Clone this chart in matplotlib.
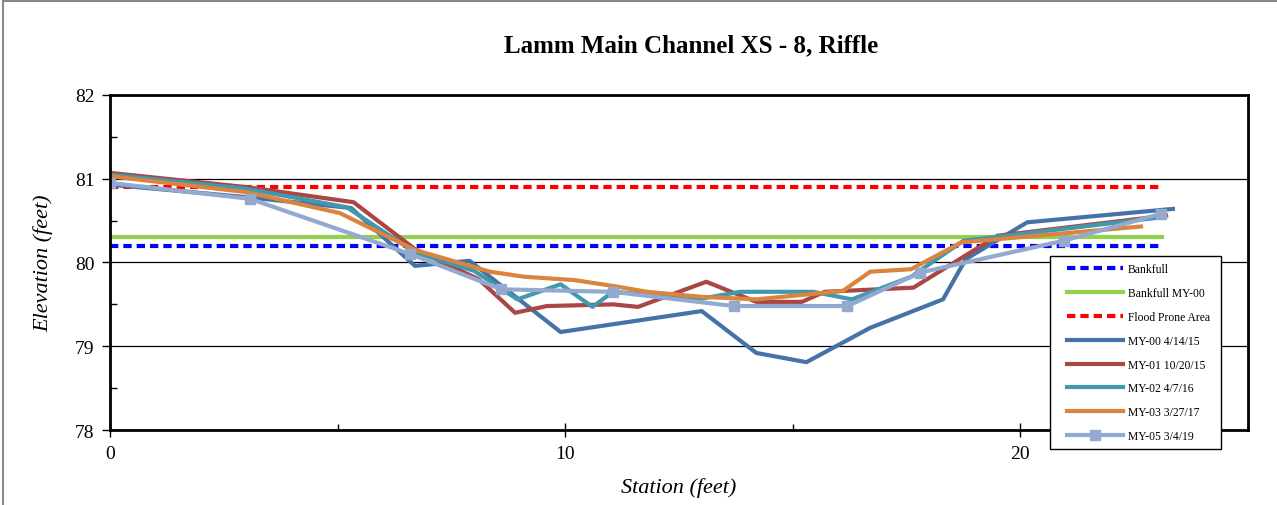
import matplotlib
matplotlib.use('Agg')
import matplotlib.pyplot as plt
from matplotlib.patches import Rectangle
from matplotlib.ticker import MultipleLocator

plt.rcParams['font.family'] = ['Liberation Serif', 'DejaVu Serif']

# reference lines (station range and elevations)
ref_x = [0, 23.1]
bankfull = 80.2
bankfull_my00 = 80.3
flood_prone = 80.9

# surveyed cross sections
my00_x = [0, 3.0, 5.3, 6.7, 7.9, 9.9, 13.0, 14.2, 15.3, 16.7, 18.3, 18.8, 20.15, 23.35]
my00_y = [80.93, 80.78, 80.65, 79.96, 80.02, 79.17, 79.42, 78.92, 78.81, 79.22, 79.56, 80.04, 80.48, 80.64]

my01_x = [0, 3.0, 5.35, 6.7, 8.1, 8.9, 9.6, 11.05, 11.6, 13.1, 14.2, 15.2, 15.7, 17.65, 19.5, 23.2]
my01_y = [81.07, 80.9, 80.72, 80.16, 79.8, 79.40, 79.48, 79.50, 79.47, 79.77, 79.53, 79.53, 79.65, 79.70, 80.32, 80.56]

my02_x = [0, 3.0, 5.2, 6.7, 8.0, 8.95, 9.9, 10.6, 11.05, 13.0, 13.85, 15.45, 16.3, 17.6, 18.75, 23.1]
my02_y = [81.05, 80.88, 80.66, 80.12, 79.9, 79.56, 79.74, 79.47, 79.65, 79.57, 79.65, 79.65, 79.56, 79.83, 80.26, 80.54]

my03_x = [0, 3.0, 5.05, 6.7, 8.35, 9.1, 10.2, 11.05, 11.8, 13.0, 14.2, 16.1, 16.7, 17.6, 18.7, 22.65]
my03_y = [81.03, 80.84, 80.59, 80.15, 79.89, 79.83, 79.79, 79.72, 79.65, 79.59, 79.56, 79.66, 79.89, 79.92, 80.24, 80.43]

my05_x = [0, 3.08, 6.6, 8.6, 11.05, 13.7, 16.2, 17.8, 20.95, 23.08]
my05_y = [80.95, 80.76, 80.10, 79.68, 79.65, 79.48, 79.48, 79.88, 80.26, 80.58]

fig = plt.figure(figsize=(12.77, 5.06), dpi=100)
ax = fig.add_axes([0.0861, 0.1482, 0.8912, 0.6621])

lw = 3
ax.plot(ref_x, [bankfull] * 2, color='#0000FF', lw=lw, dashes=(2, 1.2), label='Bankfull')
ax.plot(ref_x, [bankfull_my00] * 2, color='#92D050', lw=lw, label='Bankfull MY-00')
ax.plot(ref_x, [flood_prone] * 2, color='#FF0000', lw=lw, dashes=(2, 1.2), label='Flood Prone Area')
ax.plot(my00_x, my00_y, color='#4572A7', lw=lw, label='MY-00 4/14/15')
ax.plot(my01_x, my01_y, color='#AA4643', lw=lw, label='MY-01 10/20/15')
ax.plot(my02_x, my02_y, color='#4198AF', lw=lw, label='MY-02 4/7/16')
ax.plot(my03_x, my03_y, color='#DB843D', lw=lw, label='MY-03 3/27/17')
ax.plot(my05_x, my05_y, color='#93A9CF', lw=lw, marker='s', ms=7, label='MY-05 3/4/19')

ax.set_xlim(0, 25)
ax.set_ylim(78, 82)
ax.xaxis.set_major_locator(MultipleLocator(10))
ax.xaxis.set_minor_locator(MultipleLocator(5))
ax.yaxis.set_major_locator(MultipleLocator(1))
ax.yaxis.set_minor_locator(MultipleLocator(0.5))
ax.tick_params(axis='x', which='major', direction='inout', length=10, width=1, labelsize=14, pad=6)
ax.tick_params(axis='x', which='minor', direction='in', length=4, width=1)
ax.tick_params(axis='y', which='major', direction='out', length=6, width=1, labelsize=14, pad=5)
ax.tick_params(axis='y', which='minor', direction='in', length=5, width=1)
ax.grid(axis='y', which='major', color='black', lw=0.9)
for s in ax.spines.values():
    s.set_linewidth(2)
    s.set_color('black')

fig.text(0.541, 0.91, 'Lamm Main Channel XS - 8, Riffle', fontsize=18, fontweight='bold',
         ha='center', va='center')
ax.set_xlabel('Station (feet)', fontsize=16, style='italic', labelpad=11)
ax.set_ylabel('Elevation (feet)', fontsize=16, style='italic', labelpad=16)

# legend box drawn separately so the inner padding can be wider than tall
fig.patches.append(Rectangle((0.8222, 0.1107), 0.1339, 0.3814, transform=fig.transFigure,
                             facecolor='white', edgecolor='black', lw=1, zorder=4))
leg = fig.legend(loc='upper left', bbox_to_anchor=(0.8300, 0.4921), borderaxespad=0,
                 fontsize=8.4, handlelength=4.8, labelspacing=1.02, frameon=False,
                 borderpad=0.6, handletextpad=0.43)
leg.set_zorder(5)

fig.patches.append(Rectangle((0.0025, -0.02), 1.1, 1.0155, transform=fig.transFigure,
                             fill=False, edgecolor='#888888', lw=1.5))

fig.savefig('out.png', dpi=100)
